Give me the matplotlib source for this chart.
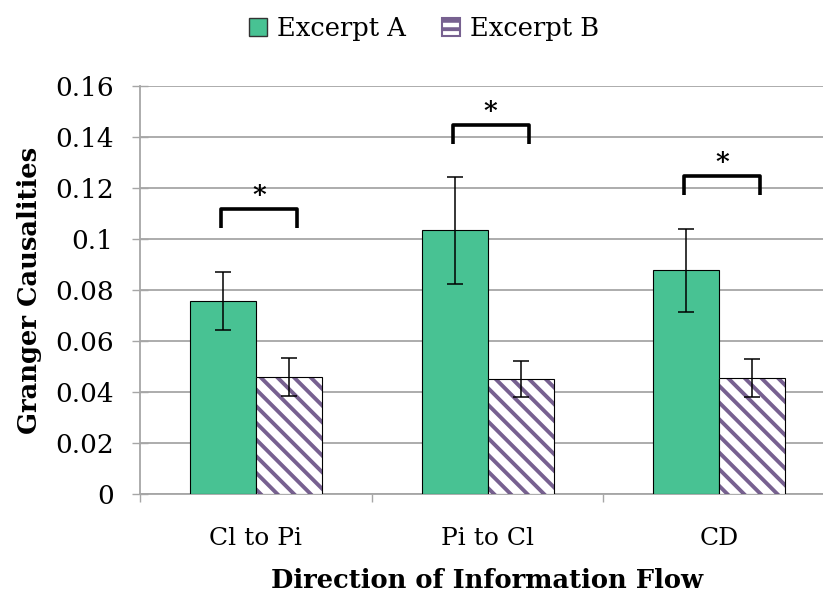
import matplotlib
matplotlib.use('Agg')
import matplotlib.pyplot as plt
from matplotlib.patches import Patch
import numpy as np

categories = ['Cl to Pi', 'Pi to Cl', 'CD']
excerpt_a = [0.0757, 0.1035, 0.0878]
excerpt_a_err = [0.0114, 0.0210, 0.0163]
excerpt_b = [0.0459, 0.0451, 0.0455]
excerpt_b_err = [0.0073, 0.0071, 0.0073]
bracket_tops = [0.1118, 0.1447, 0.1247]
yticks = [0, 0.02, 0.04, 0.06, 0.08, 0.1, 0.12, 0.14, 0.16]
ytick_labels = ['0', '0.02', '0.04', '0.06', '0.08', '0.1', '0.12', '0.14', '0.16']

plt.rcParams['font.family'] = ['DejaVu Serif']
plt.rcParams['hatch.linewidth'] = 2.8

green = '#48C293'
purple = '#776190'
grid = '#A6A6A6'

fig = plt.figure(figsize=(8.23, 6), dpi=100)
ax = fig.add_axes([0.1701, 0.1767, 0.8439, 0.68])

x = np.arange(len(categories))
w = 0.285
ax.bar(x - w / 2 + 0.003, excerpt_a, w, color=green, edgecolor='black', linewidth=0.8,
       zorder=3)
ax.bar(x + w / 2 + 0.003, excerpt_b, w, color='white', edgecolor=purple, hatch='\\\\',
       linewidth=0, zorder=3)
ax.bar(x + w / 2 + 0.003, excerpt_b, w, color='none', edgecolor='black', linewidth=0.8, zorder=4)
ax.errorbar(x - w / 2 + 0.003, excerpt_a, yerr=excerpt_a_err, fmt='none', ecolor='black',
            elinewidth=1.1, capsize=5.8, capthick=1.1, zorder=5)
ax.errorbar(x + w / 2 + 0.003, excerpt_b, yerr=excerpt_b_err, fmt='none', ecolor='black',
            elinewidth=1.1, capsize=5.8, capthick=1.1, zorder=5)

# significance brackets
for xi, top in zip(x, bracket_tops):
    x0, x1 = xi - 0.15, xi + 0.18
    ax.plot([x0, x0, x1, x1], [top - 0.0075, top, top, top - 0.0075], color='black',
            lw=2.6, solid_joinstyle='round', solid_capstyle='butt', zorder=5)
    ax.text(xi + 0.015, top + 0.0005, '*', ha='center', va='bottom', fontsize=19,
            fontweight='bold')

ax.set_xlim(-0.5, 2.5)
ax.set_ylim(0, 0.16)
ax.set_yticks(yticks)
ax.set_yticklabels(ytick_labels, fontsize=19)
ax.set_xticks(x)
ax.set_xticklabels(categories, fontsize=18)
ax.set_xticks([-0.5, 0.5, 1.5, 2.5], minor=True)
ax.tick_params(axis='x', which='major', length=0, pad=24)
ax.tick_params(axis='x', which='minor', length=6, width=1, color=grid, direction='out')
ax.tick_params(axis='y', length=12, width=1, color=grid, direction='inout', pad=13)
ax.yaxis.grid(True, color=grid, linewidth=1.3, zorder=0)
ax.set_axisbelow(True)
for s in ['top', 'right']:
    ax.spines[s].set_visible(False)
for s in ['left', 'bottom']:
    ax.spines[s].set_color(grid)
    ax.spines[s].set_linewidth(1.3)

ax.set_ylabel('Granger Causalities', fontsize=18.5, fontweight='bold', labelpad=9)
ax.set_xlabel('Direction of Information Flow', fontsize=18.5, fontweight='bold', labelpad=13)

handles = [Patch(facecolor=green, edgecolor='#333333', linewidth=1),
           Patch(facecolor='white', edgecolor=purple, hatch='--', linewidth=1.5)]
fig.legend(handles, ['Excerpt A', 'Excerpt B'], loc='upper center',
           bbox_to_anchor=(0.515, 1.012), ncol=2, frameon=False,
           fontsize=18.5, handlelength=0.7, handleheight=0.7, handletextpad=0.4,
           columnspacing=1.4)

fig.savefig('out.png', dpi=100)
